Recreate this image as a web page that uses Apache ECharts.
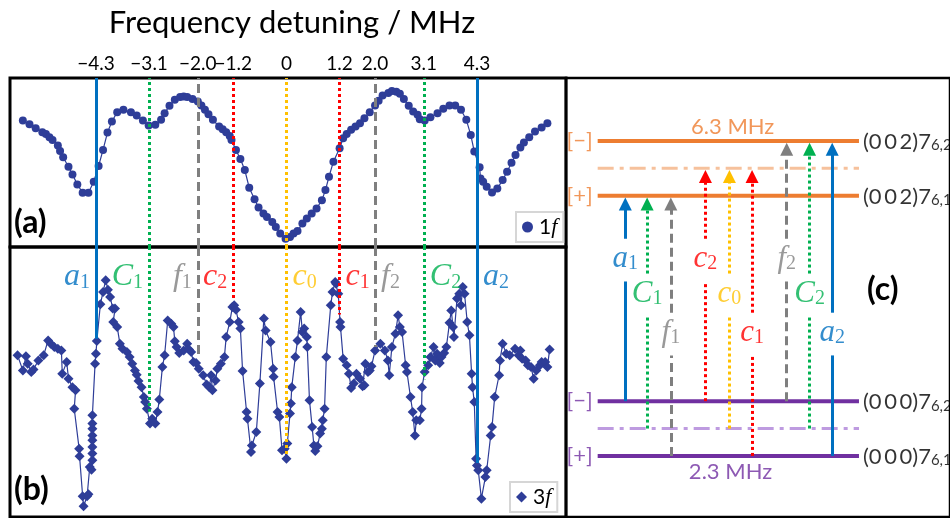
<!DOCTYPE html>
<html>
<head>
<meta charset="utf-8">
<title>Frequency detuning</title>
<script src="https://cdn.jsdelivr.net/npm/echarts@6/dist/echarts.min.js"></script>
<style>
  html, body { margin: 0; padding: 0; background: #fff; }
  #chart { width: 950px; height: 518px; }
</style>
</head>
<body>
<div id="chart"></div>
<script>
// ---- data -----------------------------------------------------------------
// tick labels of the detuning axis (MHz)
const detuningTicks = [-4.3, -3.1, -2.0, -1.2, 0, 1.2, 2.0, 3.1, 4.3];

// transitions marked on the spectra
const transitionName = ['a1', 'C1', 'f1', 'c2', 'c0', 'c1', 'f2', 'C2', 'a2'];
const transitionFreq = [-4.3, -3.1, -2.0, -1.2, 0, 1.2, 2.0, 3.1, 4.3];
// where each marker stops in the 3f trace (signal units)
const transitionStop3f = [66, 39, 59, 80, 23, 75, 63, 51, 20];

// 1f spectrum (detuning MHz, signal a.u.)
const freq1f = [
  -5.95,-5.80,-5.66,-5.51,-5.43,-5.35,-5.28,-5.16,-5.11,-5.04,
  -4.92,-4.83,-4.72,-4.60,-4.47,-4.35,-4.24,-4.14,-4.04,-3.94,
  -3.82,-3.68,-3.51,-3.38,-3.24,-3.11,-2.96,-2.83,-2.75,-2.64,
  -2.52,-2.40,-2.32,-2.24,-2.12,-2.00,-1.92,-1.84,-1.76,-1.66,
  -1.52,-1.44,-1.36,-1.28,-1.24,-1.14,-1.04,-0.94,-0.84,-0.72,
  -0.63,-0.52,-0.44,-0.32,-0.24,-0.14,-0.02,0.08,0.16,0.25,
  0.36,0.46,0.57,0.68,0.80,0.88,0.96,1.06,1.20,1.28,
  1.36,1.46,1.56,1.66,1.76,1.88,2.00,2.08,2.17,2.30,
  2.38,2.48,2.56,2.65,2.76,2.86,2.96,3.01,3.12,3.25,
  3.41,3.54,3.68,3.81,3.94,4.06,4.16,4.24,4.36,4.38,
  4.44,4.52,4.64,4.76,4.88,4.98,5.08,5.17,5.28,5.36,
  5.48,5.61,5.76,5.89
];
const signal1f = [
  75.6,73.4,71.0,68.6,67.6,65.6,64.0,60.6,57.4,53.6,
  48.0,43.4,37.4,32.4,32.4,39.0,48.4,58.0,68.4,75.0,
  80.6,82.0,80.6,78.6,75.6,72.6,73.0,76.0,80.0,84.4,
  88.0,89.6,90.0,89.6,88.4,87.0,84.6,82.0,79.4,76.0,
  72.0,70.4,68.6,66.4,64.0,58.0,52.6,46.0,35.4,28.6,
  23.6,20.0,18.0,15.0,12.0,8.0,5.0,6.0,8.0,9.6,
  14.0,17.0,20.0,23.0,28.0,34.0,42.0,51.0,59.0,65.0,
  67.6,70.0,72.0,74.0,77.0,80.6,84.6,87.4,90.6,92.0,
  93.2,92.8,91.6,88.4,84.4,81.0,79.0,76.4,75.6,77.6,
  80.0,82.6,84.6,84.6,82.0,76.0,67.0,57.0,47.6,41.0,
  39.0,36.0,32.6,35.0,40.0,45.0,50.4,55.0,59.4,62.4,
  65.6,69.0,71.4,74.0
];

// 3f spectrum (detuning MHz, signal a.u.)
const freq3f = [
  -6.07,-5.95,-5.88,-5.84,-5.76,-5.71,-5.60,-5.48,-5.38,-5.32,
  -5.24,-5.16,-5.08,-5.06,-4.96,-4.92,-4.83,-4.76,-4.79,-4.68,
  -4.67,-4.60,-4.58,-4.50,-4.47,-4.44,-4.40,-4.38,-4.38,-4.38,
  -4.38,-4.38,-4.38,-4.38,-4.38,-4.32,-4.30,-4.28,-4.20,-4.14,
  -4.08,-4.03,-3.98,-3.92,-3.87,-3.91,-3.82,-3.76,-3.70,-3.60,
  -3.54,-3.48,-3.42,-3.38,-3.34,-3.27,-3.22,-3.19,-3.15,-3.08,
  -3.03,-2.96,-2.91,-2.87,-2.80,-2.75,-2.68,-2.60,-2.55,-2.52,
  -2.48,-2.42,-2.32,-2.24,-2.20,-2.15,-2.10,-2.04,-1.98,-1.88,
  -1.80,-1.74,-1.70,-1.67,-1.60,-1.56,-1.48,-1.40,-1.36,-1.28,
  -1.22,-1.18,-1.14,-1.08,-1.04,-0.99,-0.90,-0.88,-0.80,-0.78,
  -0.68,-0.60,-0.51,-0.47,-0.36,-0.30,-0.29,-0.20,-0.16,-0.10,
  -0.04,0.00,0.02,0.08,0.10,0.12,0.20,0.25,0.32,0.36,
  0.40,0.46,0.47,0.52,0.58,0.62,0.65,0.70,0.76,0.80,
  0.82,0.86,0.90,1.00,1.04,1.10,1.12,1.17,1.21,1.22,
  1.28,1.36,1.41,1.46,1.52,1.58,1.66,1.72,1.76,1.78,
  1.84,1.88,1.92,2.00,2.12,2.22,2.29,2.32,2.38,2.46,
  2.52,2.56,2.61,2.69,2.72,2.80,2.85,2.90,2.93,3.01,
  3.05,3.06,3.12,3.20,3.25,3.32,3.36,3.40,3.46,3.50,
  3.56,3.61,3.68,3.72,3.76,3.78,3.85,3.90,3.94,3.98,
  4.02,4.08,4.13,4.18,4.20,4.24,4.28,4.30,4.33,4.40,
  4.49,4.52,4.61,4.64,4.70,4.80,4.82,4.88,4.96,5.04,
  5.16,5.24,5.28,5.32,5.40,5.45,5.52,5.58,5.64,5.72,
  5.76,5.84,5.89,5.94
];
const signal3f = [
  59.9,54.3,59.5,56.8,53.7,54.6,58.0,59.9,65.4,64.2,
  63.0,62.3,61.7,53.1,57.4,51.2,48.1,46.9,40.1,25.3,
  22.5,7.7,4.0,7.7,8.4,18.5,17.5,21.0,23.5,25.9,
  28.4,30.2,32.7,34.6,37.7,56.8,60.5,65.2,78.8,83.3,
  87.7,84.2,81.5,77.2,77.2,72.2,70.4,64.2,62.3,61.1,
  59.3,56.8,54.3,52.7,50.4,48.1,44.4,42.6,40.1,34.6,
  36.4,34.6,38.9,43.5,55.6,59.9,72.8,71.6,70.4,65.1,
  63.0,60.7,61.7,64.2,62.0,61.1,57.4,57.0,54.9,52.5,
  49.1,48.1,52.5,46.9,50.6,54.9,56.8,59.3,66.7,72.2,
  77.8,78.4,76.8,72.2,69.8,54.1,38.9,36.4,24.1,26.5,
  31.5,49.4,73.5,69.1,64.8,54.9,51.9,38.9,37.0,24.7,
  25.3,21.6,27.2,38.3,42.0,48.1,59.3,65.4,75.9,68.5,
  69.8,66.7,63.0,43.2,33.3,26.5,24.4,26.2,30.9,32.7,
  35.8,40.1,59.3,78.4,83.3,87.0,86.4,82.7,72.2,70.4,
  58.6,56.2,53.1,47.8,49.4,53.1,51.2,48.4,48.8,56.8,
  53.7,54.3,55.8,61.7,64.2,61.7,58.0,52.5,63.0,67.9,
  74.7,70.4,68.5,56.2,53.7,44.4,38.9,30.2,35.8,35.8,
  40.1,48.1,53.7,56.2,59.3,63.0,58.0,60.5,57.0,59.3,
  60.7,63.0,71.9,76.5,70.4,66.7,80.9,82.7,78.4,85.2,
  82.7,72.2,67.3,53.1,48.1,42.6,21.6,19.1,17.3,6.8,
  14.8,17.3,30.2,33.3,44.4,52.5,58.0,64.2,60.5,59.9,
  62.3,59.9,61.7,58.6,58.0,56.2,55.6,51.2,54.3,56.2,
  57.4,57.4,55.6,62.0
];

// level scheme: schematic heights of the six levels
const levelKey = ['lowPlus', 'lowMid', 'lowMinus', 'upPlus', 'upMid', 'upMinus'];
const levelHeight = [0, 1, 2, 9.5, 10.5, 11.5];
// transitions in the level scheme: column, lower level, upper level
const arrowColumn = [1.27, 2.27, 3.36, 4.95, 6.05, 7.09, 8.68, 9.73, 10.77];
const arrowFrom = ['lowMinus', 'lowMid', 'lowPlus', 'lowMinus', 'lowMid', 'lowPlus', 'lowMinus', 'lowMid', 'lowPlus'];
const arrowTo = ['upPlus', 'upPlus', 'upPlus', 'upMid', 'upMid', 'upMid', 'upMinus', 'upMinus', 'upMinus'];
const splittingText = ['6.3 MHz', '2.3 MHz'];

// ---- styles -----------------------------------------------------------------
const SANS = 'Lato, "Open Sans", "Noto Sans", sans-serif';
const SERIF = '"Liberation Serif", "DejaVu Serif", serif';
const MARK = '#2E3D98';
const ORANGE = '#ED7D31', PURPLE = '#7030A0';
const letterStyle = {
  a: { color: '#0070C0', dash: 'solid' },
  C: { color: '#00B050', dash: [3, 3] },
  f: { color: '#7F7F7F', dash: [9, 5] },
  c: { color: '#FF0000', dash: [3, 3] }
};
function transitionStyle(name) {
  if (name === 'c0') return { color: '#FFC000', dash: [3, 3] };
  return letterStyle[name[0]];
}
const levelStyle = {
  lowPlus:  { color: PURPLE, width: 4, type: 'solid' },
  lowMid:   { color: '#BE9BE0', width: 3, type: [16, 6, 4, 6] },
  lowMinus: { color: PURPLE, width: 4, type: 'solid' },
  upPlus:   { color: ORANGE, width: 4, type: 'solid' },
  upMid:    { color: '#F6C19C', width: 3, type: [16, 6, 4, 6] },
  upMinus:  { color: ORANGE, width: 4, type: 'solid' }
};
const levelTag = { lowPlus: '[+]', lowMinus: '[\u2212]', upPlus: '[+]', upMinus: '[\u2212]' };
// vibrational quanta, rotational label, rotational subscript
const levelState = {
  lowPlus: [['(0', '0', '0)7'], '6,1'], lowMinus: [['(0', '0', '0)7'], '6,2'],
  upPlus: [['(0', '0', '2)7'], '6,1'], upMinus: [['(0', '0', '2)7'], '6,2']
};
const levelOf = k => levelHeight[levelKey.indexOf(k)];

// label with italic letter and upright subscript
function subLabel(name, color, size) {
  return {
    show: true,
    formatter: '{m|' + name[0] + '}{s|' + name.slice(1) + '}',
    rich: {
      m: { fontFamily: SERIF, fontStyle: 'italic', fontSize: size, lineHeight: size, color: color, verticalAlign: 'bottom' },
      s: { fontFamily: SERIF, fontSize: Math.round(size * 0.63), lineHeight: Math.round(size * 0.6), color: color, verticalAlign: 'bottom' }
    }
  };
}
const fmtTick = v => v < 0 ? '\u2212' + Math.abs(v).toFixed(1) : (v === 0 ? '0' : v.toFixed(1));

const X_MIN = -6.24, X_MAX = 6.31;

// ---- series -----------------------------------------------------------------
const series = [];

// markers in panel (a): full height
series.push({
  type: 'line', xAxisIndex: 0, yAxisIndex: 0, data: [], z: 1, silent: true,
  markLine: {
    silent: true, symbol: 'none', label: { show: false }, animation: false,
    data: transitionName.map((n, i) => {
      const st = transitionStyle(n);
      return { xAxis: transitionFreq[i], lineStyle: { color: st.color, type: st.dash, width: 3 } };
    })
  }
});
// markers in panel (b): from the top down to the trace
series.push({
  type: 'line', xAxisIndex: 1, yAxisIndex: 1, data: [], z: 1, silent: true,
  markLine: {
    silent: true, symbol: 'none', label: { show: false }, animation: false,
    data: transitionName.map((n, i) => {
      const st = transitionStyle(n);
      return [
        { coord: [transitionFreq[i], 100], lineStyle: { color: st.color, type: st.dash, width: 3 } },
        { coord: [transitionFreq[i], transitionStop3f[i]] }
      ];
    })
  }
});

series.push({
  name: '1f', type: 'line', xAxisIndex: 0, yAxisIndex: 0, z: 3,
  data: freq1f.map((f, i) => [f, signal1f[i]]),
  symbol: 'circle', symbolSize: 8, showSymbol: true,
  itemStyle: { color: MARK }, lineStyle: { color: MARK, width: 1.2 }
});
series.push({
  name: '3f', type: 'line', xAxisIndex: 1, yAxisIndex: 1, z: 3,
  data: freq3f.map((f, i) => [f, signal3f[i]]),
  symbol: 'diamond', symbolSize: 10, showSymbol: true,
  itemStyle: { color: MARK }, lineStyle: { color: MARK, width: 1.2 }
});

// transition names in panel (b)
series.push({
  type: 'scatter', xAxisIndex: 1, yAxisIndex: 1, symbolSize: 0, z: 4, silent: true,
  data: transitionName.map((n, i) => {
    const st = transitionStyle(n);
    const lab = subLabel(n, st.color, 32);
    lab.position = transitionFreq[i] < 0 ? 'left' : 'right';
    lab.distance = 6;
    return { value: [transitionFreq[i], 89], label: lab };
  })
});

// ---- level scheme (c) ----
levelKey.forEach((k, i) => {
  series.push({
    type: 'line', xAxisIndex: 2, yAxisIndex: 2, z: 2, silent: true,
    data: [[0, levelHeight[i]], [12, levelHeight[i]]],
    showSymbol: false, lineStyle: levelStyle[k]
  });
});

const tierCenter = { lowMinus: 7.15, lowMid: 5.88, lowPlus: 4.45 };
const GAP = 0.78, TIP = 0.3;
series.push({
  type: 'lines', coordinateSystem: 'cartesian2d', xAxisIndex: 2, yAxisIndex: 2, z: 3, silent: true,
  symbol: ['none', 'none'],
  data: arrowColumn.map((x, i) => {
    const st = transitionStyle(transitionName[i]);
    return { coords: [[x, levelOf(arrowFrom[i])], [x, tierCenter[arrowFrom[i]] - GAP]],
             lineStyle: { color: st.color, type: st.dash, width: 3, opacity: 1 } };
  })
});
series.push({
  type: 'lines', coordinateSystem: 'cartesian2d', xAxisIndex: 2, yAxisIndex: 2, z: 3, silent: true,
  symbol: ['none', 'triangle'], symbolSize: 13,
  data: arrowColumn.map((x, i) => {
    const st = transitionStyle(transitionName[i]);
    return { coords: [[x, tierCenter[arrowFrom[i]] + GAP], [x, levelOf(arrowTo[i]) - TIP]],
             lineStyle: { color: st.color, type: st.dash, width: 3, opacity: 1 } };
  })
});
// transition names in (c)
series.push({
  type: 'scatter', xAxisIndex: 2, yAxisIndex: 2, symbolSize: 0, z: 4, silent: true,
  data: arrowColumn.map((x, i) => {
    const n = transitionName[i];
    const lab = subLabel(n, transitionStyle(n).color, 31);
    lab.position = 'inside';
    return { value: [x, tierCenter[arrowFrom[i]] + 0.05], label: lab };
  })
});
// parity tags and state names
const tagged = ['upMinus', 'upPlus', 'lowMinus', 'lowPlus'];
series.push({
  type: 'scatter', xAxisIndex: 2, yAxisIndex: 2, symbolSize: 0, z: 4, silent: true,
  data: tagged.map(k => ({
    value: [0, levelOf(k)],
    label: { show: true, position: 'left', distance: 5, formatter: levelTag[k],
             fontFamily: SANS, fontSize: 22, color: levelStyle[k].color }
  }))
});
series.push({
  type: 'scatter', xAxisIndex: 2, yAxisIndex: 2, symbolSize: 0, z: 4, silent: true,
  data: tagged.map(k => {
    const parts = levelState[k][0];
    return {
      value: [12, levelOf(k)],
      label: {
        show: true, position: 'right', distance: 4,
        formatter: '{t|' + parts[0] + '}{sp| }{t|' + parts[1] + '}{sp| }{t|' + parts[2] + '}{u|' + levelState[k][1] + '}',
        rich: {
          t: { fontFamily: SANS, fontSize: 22, lineHeight: 24, color: '#000', verticalAlign: 'bottom' },
          sp: { fontFamily: SANS, fontSize: 10, lineHeight: 10, color: '#000', verticalAlign: 'bottom' },
          u: { fontFamily: SANS, fontSize: 15, lineHeight: 12, color: '#000', verticalAlign: 'bottom' }
        }
      }
    };
  })
});
// splitting of the two doublets
series.push({
  type: 'scatter', xAxisIndex: 2, yAxisIndex: 2, symbolSize: 0, z: 4, silent: true,
  data: [
    { value: [6.2, levelOf('upMinus')],
      label: { show: true, position: 'top', distance: 3, formatter: splittingText[0],
               fontFamily: SANS, fontSize: 22, color: ORANGE } },
    { value: [6.1, levelOf('lowPlus')],
      label: { show: true, position: 'bottom', distance: 5, formatter: splittingText[1],
               fontFamily: SANS, fontSize: 22, color: PURPLE } }
  ]
});

// ---- chart ------------------------------------------------------------------
const legendBase = {
  orient: 'vertical', itemWidth: 11, itemHeight: 11, itemGap: 0,
  padding: [4, 6, 4, 6], borderColor: '#D6D6D6', borderWidth: 2, borderRadius: 0,
  backgroundColor: '#fff', selectedMode: false,
  formatter: name => '{n|' + name[0] + '}{i|' + name.slice(1) + '}',
  textStyle: {
    padding: [0, 0, 0, 1],
    rich: {
      n: { fontFamily: SANS, fontSize: 21, color: '#000' },
      i: { fontFamily: SERIF, fontStyle: 'italic', fontSize: 22, color: '#000' }
    }
  }
};

const option = {
  animation: false,
  backgroundColor: '#fff',
  title: {
    text: 'Frequency detuning / MHz', left: 287, top: 2, textAlign: 'center',
    textStyle: { fontFamily: SANS, fontSize: 31, fontWeight: 'normal', color: '#000' }
  },
  legend: [
    Object.assign({}, legendBase, { data: [{ name: '1f', icon: 'circle' }], left: 516, top: 212 }),
    Object.assign({}, legendBase, { data: [{ name: '3f', icon: 'diamond' }], left: 510, top: 482 })
  ],
  grid: [
    { left: 10, top: 78, width: 556, height: 169, show: true, borderColor: '#000', borderWidth: 3, backgroundColor: 'transparent' },
    { left: 10, top: 247, width: 556, height: 270, show: true, borderColor: '#000', borderWidth: 3, backgroundColor: 'transparent' },
    { left: 566, top: 78, width: 388, height: 439, show: true, borderColor: '#000', borderWidth: 2.5, backgroundColor: 'transparent' }
  ],
  xAxis: [
    {
      gridIndex: 0, type: 'value', position: 'top', min: X_MIN, max: X_MAX,
      axisLine: { show: false }, axisTick: { show: false }, splitLine: { show: false },
      axisLabel: { customValues: detuningTicks, formatter: fmtTick, margin: 5,
                   hideOverlap: false, fontFamily: SANS, fontSize: 19, color: '#000' }
    },
    { gridIndex: 1, type: 'value', min: X_MIN, max: X_MAX, show: false },
    { gridIndex: 2, type: 'value', min: -1.4545, max: 16.18, show: false }
  ],
  yAxis: [
    { gridIndex: 0, type: 'value', min: 0, max: 101, show: false },
    { gridIndex: 1, type: 'value', min: 0, max: 100, show: false },
    { gridIndex: 2, type: 'value', min: -2.23, max: 13.8, show: false }
  ],
  graphic: [
    { type: 'text', left: 14, top: 207, style: { text: '(a)', font: 'bold 32px ' + SANS, fill: '#000' } },
    { type: 'text', left: 14, top: 474, style: { text: '(b)', font: 'bold 32px ' + SANS, fill: '#000' } },
    { type: 'text', left: 867, top: 274, style: { text: '(c)', font: 'bold 32px ' + SANS, fill: '#000' } }
  ],
  series: series
};

const chart = echarts.init(document.getElementById('chart'));
chart.setOption(option);
</script>
</body>
</html>
